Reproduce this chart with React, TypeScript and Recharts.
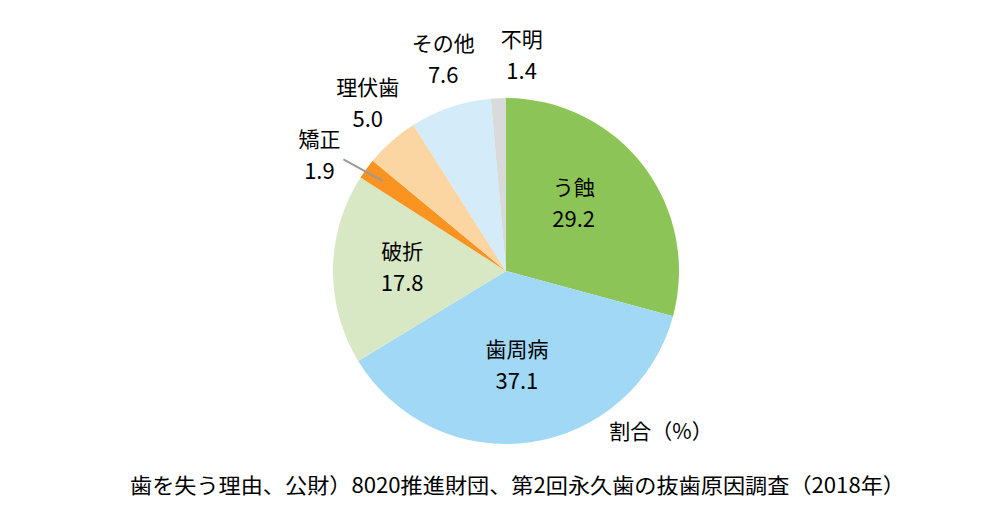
import React from 'react';
import { PieChart, Pie, Cell } from 'recharts';

const categories = ['う蝕', '歯周病', '破折', '矯正', '理伏歯', 'その他', '不明'];
const shares = [29.2, 37.1, 17.8, 1.9, 5.0, 7.6, 1.4];
const sliceColors = ['#8DC457', '#A1D8F5', '#D8E8C5', '#F8941F', '#FBD5A2', '#D4EBF9', '#D9DADA'];

const unitLabel = '割合（%）';
const caption = '歯を失う理由、公財）8020推進財団、第2回永久歯の抜歯原因調査（2018年）';

const data = categories.map((name, i) => ({ name, value: shares[i] }));

const FONT = '"Noto Sans CJK JP", "Noto Sans", sans-serif';
const RAD = Math.PI / 180;

// small nudges so the labels sit where Excel put them
const labelNudge: Record<string, { r: number; dx: number; dy: number }> = {
  'う蝕': { r: 0.58, dx: -12, dy: -8 },
  '歯周病': { r: 0.53, dx: -2, dy: 2 },
  '破折': { r: 0.6, dx: 0, dy: -4 },
  '矯正': { r: 1.2, dx: -19, dy: 6 },
  '理伏歯': { r: 1.27, dx: 7, dy: -4 },
  'その他': { r: 1.24, dx: 6, dy: -10 },
  '不明': { r: 1.23, dx: 25, dy: -4 },
};

const renderLabel = (props: any) => {
  const { cx, cy, midAngle, outerRadius, name, value } = props;
  const n = labelNudge[name] || { r: 0.6, dx: 0, dy: 0 };
  const x = cx + outerRadius * n.r * Math.cos(-midAngle * RAD) + n.dx;
  const y = cy + outerRadius * n.r * Math.sin(-midAngle * RAD) + n.dy;
  const isLeader = name === '矯正';
  const lx1 = cx + outerRadius * 0.88 * Math.cos(-midAngle * RAD);
  const ly1 = cy + outerRadius * 0.88 * Math.sin(-midAngle * RAD);
  return (
    <g>
      {isLeader && (
        <line x1={lx1} y1={ly1} x2={x + 24} y2={y + 5} stroke="#9A9A9A" strokeWidth={2} />
      )}
      <text x={x} y={y - 16} textAnchor="middle" dominantBaseline="central" fontSize={21} fontFamily={FONT} fill="#000">
        {name}
      </text>
      <text x={x} y={y + 15} textAnchor="middle" dominantBaseline="central" fontSize={22} fontFamily={FONT} fill="#000">
        {value.toFixed(1)}
      </text>
    </g>
  );
};

export default function App() {
  return (
    <div style={{ width: 988, height: 519, background: '#fff' }}>
      <style>{'body{margin:0}'}</style>
      <PieChart width={988} height={519} margin={{ top: 0, right: 0, bottom: 0, left: 0 }}>
        <Pie
          data={data}
          dataKey="value"
          nameKey="name"
          cx={506}
          cy={271}
          outerRadius={173}
          startAngle={90}
          endAngle={-270}
          stroke="none"
          label={renderLabel}
          labelLine={false}
          isAnimationActive={false}
        >
          {data.map((d, i) => (
            <Cell key={d.name} fill={sliceColors[i]} />
          ))}
        </Pie>
        <text x={661} y={430} textAnchor="middle" dominantBaseline="central" fontSize={21} fontFamily={FONT} fill="#000">
          {unitLabel}
        </text>
        <text
          x={130}
          y={484}
          dominantBaseline="central"
          fontSize={21}
          fontFamily={FONT}
          fill="#000"
          textLength={775}
          lengthAdjust="spacingAndGlyphs"
        >
          {caption}
        </text>
      </PieChart>
    </div>
  );
}
